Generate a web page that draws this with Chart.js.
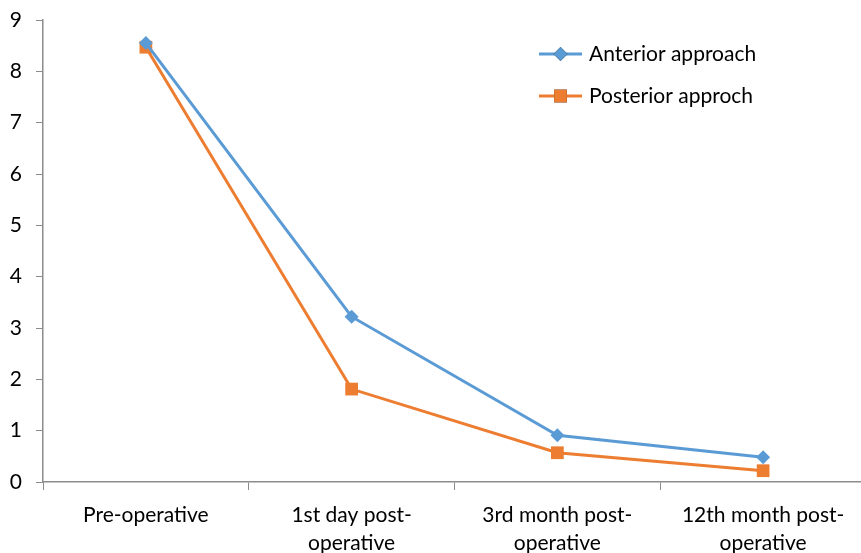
<!DOCTYPE html>
<html><head><meta charset="utf-8">
<script src="https://cdn.jsdelivr.net/npm/chart.js@4/dist/chart.umd.min.js"></script>
<style>
html,body{margin:0;padding:0;overflow:hidden;background:#fff;}
#wrap{width:875px;height:553px;position:relative;}
</style></head>
<body><div id="wrap"><canvas id="c" width="875" height="553"></canvas></div>
<script>
const categories = [['Pre-operative'], ['1st day post-', 'operative'], ['3rd month post-', 'operative'], ['12th month post-', 'operative']];
const anteriorValues = [8.55, 3.22, 0.91, 0.48];
const posteriorValues = [8.47, 1.81, 0.57, 0.22];
const yTicks = [0, 1, 2, 3, 4, 5, 6, 7, 8, 9];
const seriesNames = ['Anterior approach', 'Posterior approch'];

const FONT = 'Lato, "Open Sans", sans-serif';
const BLUE = '#5B9BD5', ORANGE = '#ED7D31', AXIS = '#8C8C8C';

const legendPlugin = {
  id: 'lineLegend',
  afterDraw(chart) {
    const ctx = chart.ctx;
    const items = chart.data.datasets;
    ctx.save();
    items.forEach((ds, i) => {
      const y = 54 + i * 42;
      const x0 = 539, x1 = 582;
      ctx.strokeStyle = ds.borderColor;
      ctx.lineWidth = 3;
      ctx.beginPath(); ctx.moveTo(x0, y); ctx.lineTo(x1, y); ctx.stroke();
      Chart.helpers.drawPoint(ctx, {pointStyle: ds.pointStyle, radius: ds.pointRadius, rotation: 0, borderWidth: 0}, (x0 + x1) / 2, y);
      ctx.fillStyle = ds.borderColor;
      ctx.fill();
      ctx.fillStyle = '#000';
      ctx.font = '21px ' + FONT;
      ctx.textBaseline = 'middle';
      ctx.textAlign = 'left';
      ctx.fillText(ds.label, 589, y);
    });
    ctx.restore();
  }
};

new Chart(document.getElementById('c'), {
  type: 'line',
  data: {
    labels: categories,
    datasets: [
      {label: seriesNames[0], data: anteriorValues, borderColor: BLUE, backgroundColor: BLUE,
       pointStyle: 'rectRot', pointRadius: 7, pointBorderWidth: 0, borderWidth: 3, tension: 0},
      {label: seriesNames[1], data: posteriorValues, borderColor: ORANGE, backgroundColor: ORANGE,
       pointStyle: 'rect', pointRadius: 9, pointBorderWidth: 0, borderWidth: 3, tension: 0}
    ]
  },
  options: {
    responsive: false,
    animation: false,
    events: [],
    layout: {padding: {top: 20, right: 5, left: 0, bottom: 0}},
    plugins: {legend: {display: false}, tooltip: {enabled: false}},
    scales: {
      x: {
        offset: true,
        grid: {display: true, drawOnChartArea: false, drawTicks: true, tickLength: 8, color: AXIS, offset: true},
        border: {display: true, color: AXIS, width: 1.5},
        ticks: {color: '#000', font: {family: FONT, size: 21, lineHeight: 1.33}, padding: 11, maxRotation: 0, autoSkip: false},
        afterFit(s) { s.height = 71; s.paddingLeft = 0; s.paddingRight = 0; }
      },
      y: {
        min: 0, max: 9,
        afterBuildTicks(s) { s.ticks = yTicks.map(v => ({value: v})); },
        grid: {display: true, drawOnChartArea: false, drawTicks: true, tickLength: 7, color: AXIS},
        border: {display: true, color: AXIS, width: 1.5},
        ticks: {color: '#000', font: {family: FONT, size: 21}, padding: 14},
        afterFit(s) { s.width = 43; s.paddingTop = 0; s.paddingBottom = 0; }
      }
    }
  },
  plugins: [legendPlugin]
});
</script></body></html>
